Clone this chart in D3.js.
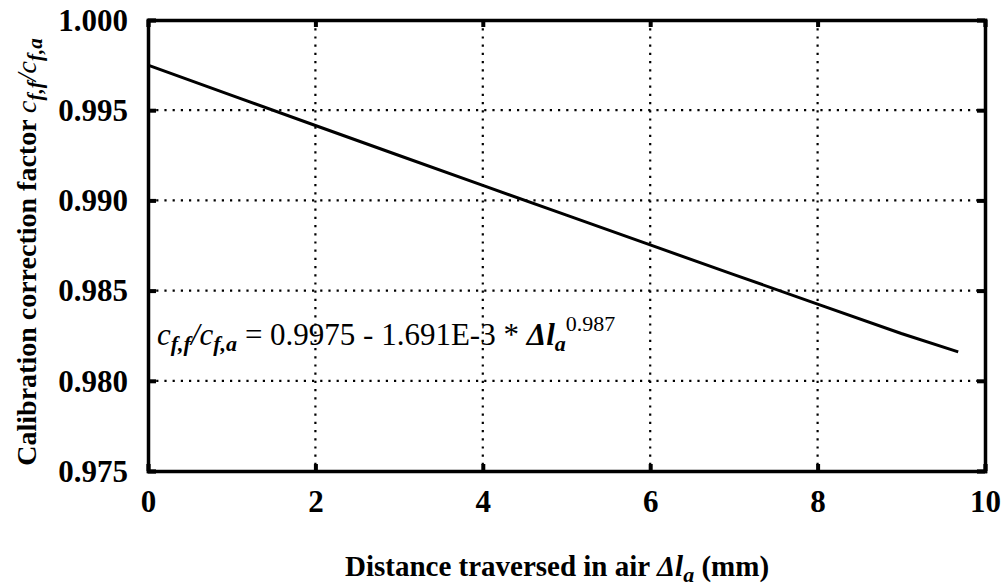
<!DOCTYPE html>
<html>
<head>
<meta charset="utf-8">
<script src="https://cdn.jsdelivr.net/npm/d3@7"></script>
<style>
  body { margin: 0; background: #fff; }
  text { font-family: "Liberation Serif", "DejaVu Serif", serif; fill: #000; }
</style>
</head>
<body>
<script>
// values
const distance = [0, 1, 2, 3, 4, 5, 6, 7, 8, 9, 9.68];
const factor = [0.9975, 0.99582, 0.99415, 0.99249, 0.99083, 0.98918, 0.98753, 0.98589, 0.98425, 0.98262, 0.98160];
const xTicks = [0, 2, 4, 6, 8, 10];
const yTicks = [0.975, 0.980, 0.985, 0.990, 0.995, 1.000];

const width = 1004, height = 587;
const margin = { top: 20, right: 19, bottom: 116, left: 148 };

const svg = d3.select("body").append("svg")
  .attr("width", width)
  .attr("height", height);

const x = d3.scaleLinear().domain([0, 10]).range([margin.left, width - margin.right]);
const y = d3.scaleLinear().domain([0.975, 1.0]).range([height - margin.bottom, margin.top]);

// grid (dotted)
svg.append("g")
  .selectAll("line")
  .data(xTicks.slice(1, -1))
  .join("line")
  .attr("x1", d => x(d)).attr("x2", d => x(d))
  .attr("y1", y(1.0)).attr("y2", y(0.975))
  .attr("stroke", "#000")
  .attr("stroke-width", 2.2)
  .attr("stroke-dasharray", "2.2,6");

svg.append("g")
  .selectAll("line")
  .data(yTicks.slice(1, -1))
  .join("line")
  .attr("x1", x(0)).attr("x2", x(10))
  .attr("y1", d => y(d)).attr("y2", d => y(d))
  .attr("stroke", "#000")
  .attr("stroke-width", 2.2)
  .attr("stroke-dasharray", "2.2,6");

// axes with inward ticks on all sides
const axB = svg.append("g").attr("transform", `translate(0,${y(0.975)})`)
  .call(d3.axisBottom(x).tickValues(xTicks).tickSize(-7).tickPadding(19).tickFormat(d3.format("d")));
const axT = svg.append("g").attr("transform", `translate(0,${y(1.0)})`)
  .call(d3.axisTop(x).tickValues(xTicks).tickSize(-7).tickFormat(""));
const axL = svg.append("g").attr("transform", `translate(${x(0)},0)`)
  .call(d3.axisLeft(y).tickValues(yTicks).tickSize(-8).tickPadding(20).tickFormat(d3.format(".3f")));
const axR = svg.append("g").attr("transform", `translate(${x(10)},0)`)
  .call(d3.axisRight(y).tickValues(yTicks).tickSize(-8).tickFormat(""));

[axB, axT, axL, axR].forEach(g => {
  g.select(".domain").attr("stroke", "#000").attr("stroke-width", 3.5);
  g.selectAll(".tick line").attr("stroke", "#000").attr("stroke-width", 4);
  g.selectAll(".tick text")
    .style("font-family", "'Liberation Serif', serif")
    .style("font-size", "31px")
    .style("font-weight", "bold")
    .attr("fill", "#000");
});
axL.selectAll(".tick text").attr("dy", "0.33em");
axB.selectAll(".tick text").attr("dy", "0.7em");

// fitted curve
const line = d3.line().x((d, i) => x(distance[i])).y(d => y(d));
svg.append("path")
  .datum(factor)
  .attr("d", line)
  .attr("fill", "none")
  .attr("stroke", "#000")
  .attr("stroke-width", 3);

// equation label
const eq = svg.append("text")
  .attr("x", 157)
  .attr("y", 345)
  .style("font-size", "31px");
eq.append("tspan").style("font-style", "italic").text("c");
eq.append("tspan").attr("dy", 6).style("font-size", "22px").style("font-style", "italic").style("font-weight", "bold").text("f,f");
eq.append("tspan").attr("dy", -6).style("font-style", "italic").text("/c");
eq.append("tspan").attr("dy", 6).style("font-size", "22px").style("font-style", "italic").style("font-weight", "bold").text("f,a");
eq.append("tspan").attr("dy", -6).text(" = 0.9975 - 1.691E-3 * ");
eq.append("tspan").style("font-style", "italic").style("font-weight", "bold").text("Δl");
eq.append("tspan").attr("dy", 6).style("font-size", "22px").style("font-style", "italic").style("font-weight", "bold").text("a");
eq.append("tspan").attr("dy", -20).style("font-size", "22px").text("0.987");

// x axis title
const xt = svg.append("text")
  .attr("x", 557)
  .attr("y", 576)
  .attr("text-anchor", "middle")
  .style("font-size", "29px")
  .style("font-weight", "bold");
xt.append("tspan").text("Distance traversed in air  ");
xt.append("tspan").style("font-style", "italic").text("Δl");
xt.append("tspan").attr("dy", 6).style("font-size", "22px").style("font-style", "italic").text("a");
xt.append("tspan").attr("dy", -6).text(" (mm)");

// y axis title
const yt = svg.append("text")
  .attr("transform", "translate(36,252) rotate(-90)")
  .attr("text-anchor", "middle")
  .style("font-size", "28px")
  .style("font-weight", "bold");
yt.append("tspan").text("Calibration correction factor  ");
yt.append("tspan").style("font-style", "italic").style("font-weight", "normal").text("c");
yt.append("tspan").attr("dy", 6).style("font-size", "21px").style("font-style", "italic").text("f,f");
yt.append("tspan").attr("dy", -6).style("font-style", "italic").style("font-weight", "normal").text("/c");
yt.append("tspan").attr("dy", 6).style("font-size", "21px").style("font-style", "italic").text("f,a");
</script>
</body>
</html>
